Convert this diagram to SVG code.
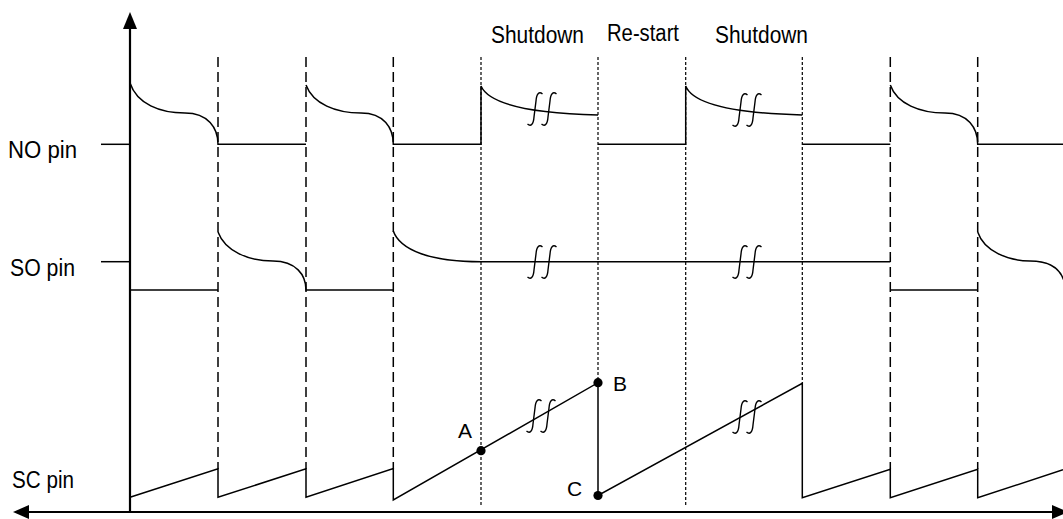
<svg xmlns="http://www.w3.org/2000/svg" width="1063" height="519" viewBox="0 0 1063 519">
<style>
  .txt { font-family: "Liberation Sans", Arial, sans-serif; fill: #000; }
  .wave { fill: none; stroke: #000; stroke-width: 1.5; }
  .dash { fill: none; stroke: #000; stroke-width: 1.5; stroke-dasharray: 10,5; }
  .dot { fill: none; stroke: #000; stroke-width: 1.2; stroke-dasharray: 3,2; }
  .axis { fill: none; stroke: #000; stroke-width: 2.2; }
  .brk { fill: none; stroke: #000; stroke-width: 1.4; }
</style>
<defs>
  <path id="s1" d="M7.5,-15 C4,-18 1.5,-15 1,-8 L-1,8 C-1.5,15 -4,18 -7.5,15"/>
  <g id="brk">
    <use href="#s1" class="brk" x="-7"/>
    <use href="#s1" class="brk" x="7"/>
  </g>
</defs>
<rect width="1063" height="519" fill="#fff"/>

<g id="axes">
  <line class="axis" x1="130" y1="26" x2="130" y2="512"/>
  <polygon points="130,12 123,29 137,29" fill="#000"/>
  <line class="axis" x1="26" y1="512" x2="1055" y2="512"/>
  <polygon points="13,512 29,505 29,519" fill="#000"/>
  <polygon points="1068,512 1052,505 1052,519" fill="#000"/>
  <line class="wave" x1="101" y1="144.3" x2="130" y2="144.3"/>
  <line class="wave" x1="101" y1="261.7" x2="130" y2="261.7"/>
</g>

<g id="gridlines">
  <line class="dash" x1="218" y1="57" x2="218" y2="469"/>
  <line class="dash" x1="306" y1="57" x2="306" y2="469"/>
  <line class="dash" x1="393.3" y1="57" x2="393.3" y2="469"/>
  <line class="dash" x1="890.3" y1="57" x2="890.3" y2="469"/>
  <line class="dash" x1="977.7" y1="57" x2="977.7" y2="469"/>
  <line class="dot" x1="481" y1="57" x2="481" y2="507"/>
  <line class="dot" x1="598" y1="57" x2="598" y2="383"/>
  <line class="dot" x1="685.7" y1="57" x2="685.7" y2="507"/>
  <line class="dot" x1="802.3" y1="57" x2="802.3" y2="383"/>
</g>

<g id="labels">
  <text class="txt" x="8" y="157.5" font-size="23" textLength="69" lengthAdjust="spacingAndGlyphs">NO pin</text>
  <text class="txt" x="10" y="275.5" font-size="23" textLength="65" lengthAdjust="spacingAndGlyphs">SO pin</text>
  <text class="txt" x="12" y="487.5" font-size="23" textLength="62" lengthAdjust="spacingAndGlyphs">SC pin</text>
  <text class="txt" x="491" y="43" font-size="23" textLength="93" lengthAdjust="spacingAndGlyphs">Shutdown</text>
  <text class="txt" x="607" y="41" font-size="23" textLength="72" lengthAdjust="spacingAndGlyphs">Re-start</text>
  <text class="txt" x="715" y="43" font-size="23" textLength="93" lengthAdjust="spacingAndGlyphs">Shutdown</text>
  <text class="txt" x="458" y="437.5" font-size="21">A</text>
  <text class="txt" x="613" y="391" font-size="21">B</text>
  <text class="txt" x="567" y="496" font-size="21">C</text>
</g>

<g id="no-pin">
  <path class="wave" d="M130,83 C137,104 160,113 185,113 C208,113 218,128 218,144.3 L306,144.3"/>
  <path class="wave" d="M306,85 C313,104 336,113 361,113 C384,113 393.3,128 393.3,144.3 L481,144.3 L481,86 C488,102 520,113 598,115"/>
  <path class="wave" d="M598,144.3 L685.7,144.3 L685.7,86 C692,102 724,113 802.3,115"/>
  <path class="wave" d="M802.3,144.3 L890.3,144.3"/>
  <path class="wave" d="M890.3,85 C897,104 920,113 945,113 C968,113 977.7,128 977.7,144.3 L1063,144.3"/>
  <use href="#brk" x="542" y="109"/>
  <use href="#brk" x="747" y="110"/>
</g>

<g id="so-pin">
  <path class="wave" d="M130,290 L218,290"/>
  <path class="wave" d="M218,232 C225,251 248,261 273,261 C296,261 306,275 306,290 L393.3,290"/>
  <path class="wave" d="M393.3,231 C400,250 430,261.7 481,261.7 L890.3,261.7"/>
  <path class="wave" d="M890.3,290 L977.7,290"/>
  <path class="wave" d="M977.7,232 C984,251 1008,261 1030,261 C1050,261 1060,268 1064,281"/>
  <use href="#brk" x="542" y="262"/>
  <use href="#brk" x="747" y="262"/>
</g>

<g id="sc-pin">
  <path class="wave" d="M130,497.3 L218,468.7 L218,497.3 L306,468.7 L306,497.3 L393.3,468.5 L393.3,500 L598,382.7 L598,495.5 L802.3,383.3 L802.3,497.7 L890.3,469.3 L890.3,497.7 L977.7,469.3 L977.7,497.7 L1063,469.8"/>
  <use href="#brk" x="541" y="416"/>
  <use href="#brk" x="747" y="417"/>
  <circle cx="481" cy="450.7" r="4.6" fill="#000"/>
  <circle cx="598" cy="382.7" r="4.6" fill="#000"/>
  <circle cx="598" cy="495.5" r="4.6" fill="#000"/>
</g>
</svg>
